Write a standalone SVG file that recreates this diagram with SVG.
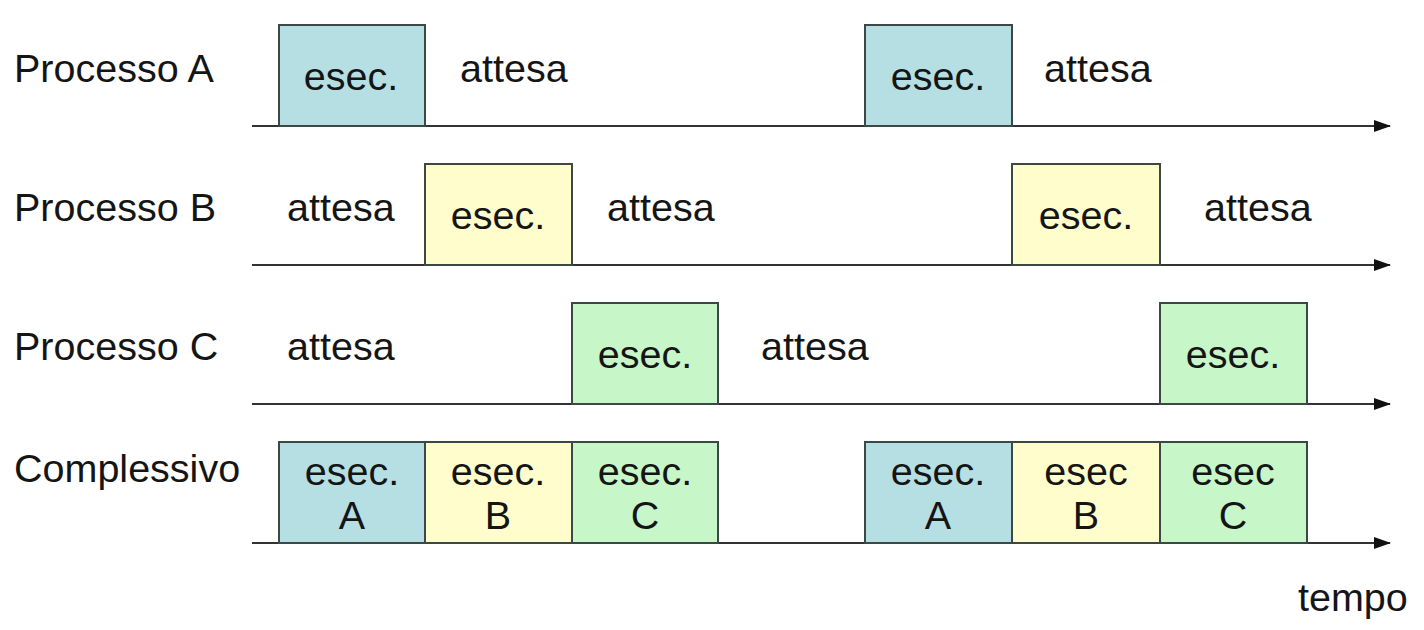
<svg xmlns="http://www.w3.org/2000/svg" width="1424" height="630" viewBox="0 0 1424 630">
<style>
text{font-family:"Liberation Sans",Arial,sans-serif;font-size:39.5px;fill:#151515}
.c{text-anchor:middle}
.box{stroke:#3c4845;stroke-width:2}
.a{fill:#b6dfe3}
.b{fill:#fffdcb}
.g{fill:#c7f6c9}
.ax{stroke:#333;stroke-width:2.2;fill:none}
</style>
<defs>
<marker id="arr" markerWidth="8" markerHeight="5.5" refX="7.5" refY="2.75" orient="auto" markerUnits="strokeWidth">
<path d="M0,0 L8,2.75 L0,5.5 Z" fill="#111"/>
</marker>
</defs>
<rect width="1424" height="630" fill="#fff"/>
<g id="connectors">
<line class="ax" x1="252" y1="126" x2="1390" y2="126" marker-end="url(#arr)"/>
<line class="ax" x1="252" y1="265" x2="1390" y2="265" marker-end="url(#arr)"/>
<line class="ax" x1="252" y1="404" x2="1390" y2="404" marker-end="url(#arr)"/>
<line class="ax" x1="252" y1="543" x2="1390" y2="543" marker-end="url(#arr)"/>
</g>
<g id="rowA">
<text x="14" y="82">Processo A</text>
<rect class="box a" x="279" y="25" width="146" height="101"/>
<text class="c" x="351" y="90">esec.</text>
<text x="460" y="82">attesa</text>
<rect class="box a" x="865" y="25" width="147" height="101"/>
<text class="c" x="938" y="90">esec.</text>
<text x="1044" y="82">attesa</text>
</g>
<g id="rowB">
<text x="14" y="221">Processo B</text>
<text x="287" y="221">attesa</text>
<rect class="box b" x="425" y="164" width="147" height="101"/>
<text class="c" x="498" y="229">esec.</text>
<text x="607" y="221">attesa</text>
<rect class="box b" x="1012" y="164" width="148" height="101"/>
<text class="c" x="1086" y="229">esec.</text>
<text x="1204" y="221">attesa</text>
</g>
<g id="rowC">
<text x="14" y="360">Processo C</text>
<text x="287" y="360">attesa</text>
<rect class="box g" x="572" y="303" width="146" height="101"/>
<text class="c" x="645" y="368">esec.</text>
<text x="761" y="360">attesa</text>
<rect class="box g" x="1160" y="303" width="147" height="101"/>
<text class="c" x="1233" y="368">esec.</text>
</g>
<g id="rowD">
<text x="14" y="482">Complessivo</text>
<rect class="box a" x="279" y="442" width="146" height="101"/>
<text class="c" x="352" y="485">esec.</text>
<text class="c" x="352" y="529">A</text>
<rect class="box b" x="425" y="442" width="147" height="101"/>
<text class="c" x="498" y="485">esec.</text>
<text class="c" x="498" y="529">B</text>
<rect class="box g" x="572" y="442" width="146" height="101"/>
<text class="c" x="645" y="485">esec.</text>
<text class="c" x="645" y="529">C</text>
<rect class="box a" x="865" y="442" width="147" height="101"/>
<text class="c" x="938" y="485">esec.</text>
<text class="c" x="938" y="529">A</text>
<rect class="box b" x="1012" y="442" width="148" height="101"/>
<text class="c" x="1086" y="485">esec</text>
<text class="c" x="1086" y="529">B</text>
<rect class="box g" x="1160" y="442" width="147" height="101"/>
<text class="c" x="1233" y="485">esec</text>
<text class="c" x="1233" y="529">C</text>
</g>
<text x="1298" y="611">tempo</text>
</svg>
